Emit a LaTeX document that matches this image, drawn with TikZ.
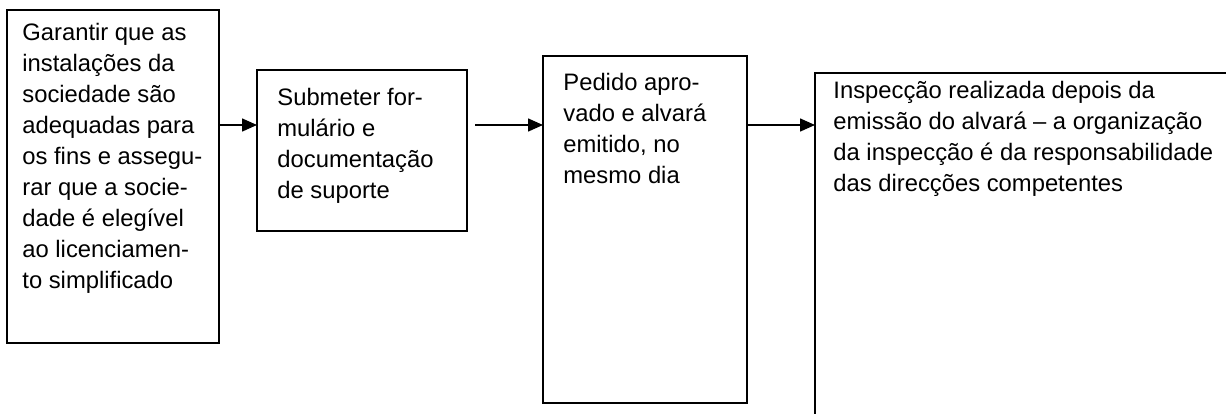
\documentclass[tikz,border=0pt]{standalone}
\usepackage{fontspec}
\setmainfont{Liberation Sans}
\usetikzlibrary{arrows.meta, positioning}

\newcommand{\topstrut}{\rule{0pt}{10pt}}

\begin{document}
\begin{tikzpicture}[x=0.5pt, y=-0.5pt,
    box/.style={draw, line width=1pt, inner sep=0pt, outer sep=0pt, anchor=north west},
    txt/.style={inner sep=0pt, anchor=north west, align=left, font=\fontsize{11.9}{15.5}\selectfont},
    arr/.style={line width=0.75pt, -{Triangle[length=7.5pt,width=6.5pt]}}]
  \useasboundingbox (0,0) rectangle (1226,413);
  \clip (0,0) rectangle (1226,413);

  % boxes
  \node[box, minimum width=106pt, minimum height=166.5pt] (garantir) at (7,10) {};
  \node[box, minimum width=105pt, minimum height=80.5pt] (submeter) at (257,70) {};
  \node[box, minimum width=102pt, minimum height=173.5pt] (pedido) at (543,56) {};
  \node[box, minimum width=250pt, minimum height=200pt] (inspeccao) at (815,73) {};

  % texts
  \node[txt] (garantir-txt) at (22,20) {\topstrut Garantir que as\\instalações da\\sociedade são\\adequadas para\\os fins e assegu-\\rar que a socie-\\dade é elegível\\ao licenciamen-\\to simplificado};
  \node[txt] (submeter-txt) at (277,85) {\topstrut Submeter for-\\mulário e\\documentação\\de suporte};
  \node[txt] (pedido-txt) at (563,70) {\topstrut Pedido apro-\\vado e alvará\\emitido, no\\mesmo dia};
  \node[txt] (inspeccao-txt) at (833,78) {\topstrut Inspecção realizada depois da\\emissão do alvará -- a organização\\da inspecção é da responsabilidade\\das direcções competentes};

  % arrows
  \coordinate (lvl) at (0,125);
  \draw[arr] (garantir.east |- lvl) -- (submeter.west |- lvl);
  \draw[arr, shorten <=4pt] (submeter.east |- lvl) -- (pedido.west |- lvl);
  \draw[arr] (pedido.east |- lvl) -- (inspeccao.west |- lvl);
\end{tikzpicture}
\end{document}
